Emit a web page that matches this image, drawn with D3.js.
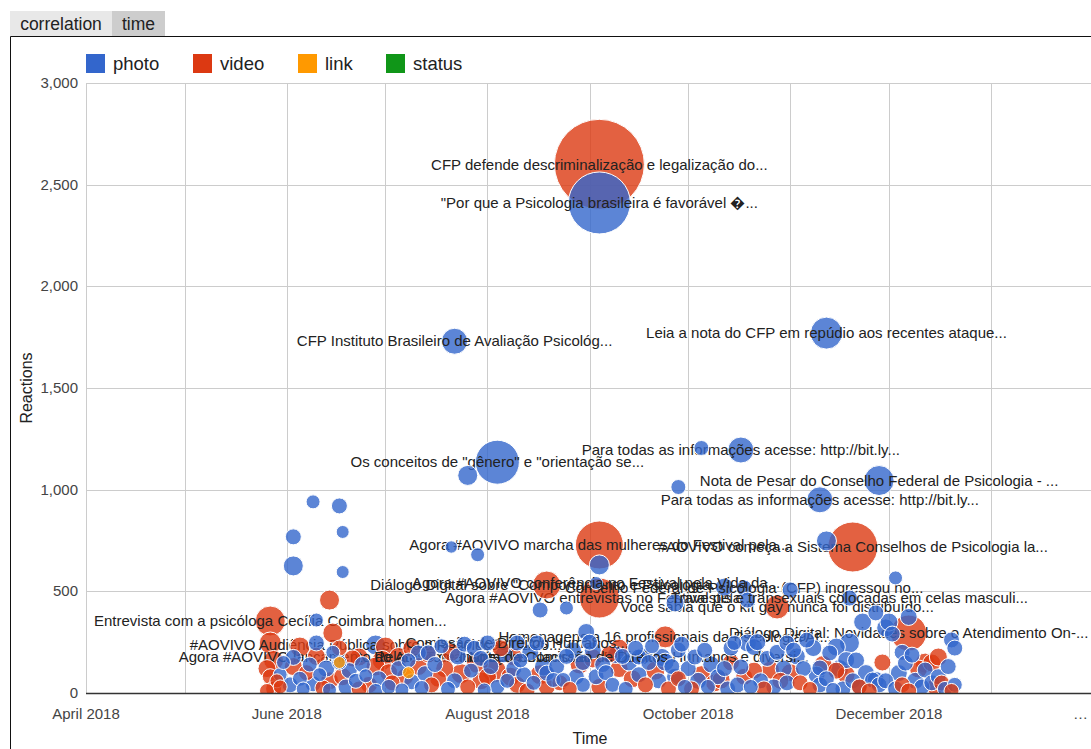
<!DOCTYPE html>
<html>
<head>
<meta charset="utf-8">
<script src="https://cdn.jsdelivr.net/npm/d3@7"></script>
<style>
body { margin: 0; background: #fff; font-family: Arial, "Liberation Sans", sans-serif; }
</style>
</head>
<body>
<svg id="chart"></svg>
<script>
// series, axis ticks
const categories = ["photo", "video", "link", "status"];
const tabNames = ["correlation", "time"];
const yTicks = [0, 500, 1000, 1500, 2000, 2500, 3000];
const xTickDates = ["2018-04-01", "2018-06-01", "2018-08-01", "2018-10-01", "2018-12-01", "2019-02-01"];
const xTickLabels = ["April 2018", "June 2018", "August 2018", "October 2018", "December 2018", "\u2026"];

// [date, reactions, size, label]
const photoPosts = [
    ["2018-09-04", 2410, 260, "\"Por que a Psicologia brasileira é favorável \uFFFD..."],
    ["2018-07-22", 1730, 80, "CFP Instituto Brasileiro de Avaliação Psicológ..."],
    ["2018-11-12", 1770, 110, "Leia a nota do CFP em repúdio aos recentes ataque..."],
    ["2018-08-04", 1135, 170, "Os conceitos de \"gênero\" e \"orientação se..."],
    ["2018-07-26", 1070, 50],
    ["2018-10-17", 1195, 80, "Para todas as informações acesse: http://bit.ly..."],
    ["2018-10-05", 1205, 25],
    ["2018-11-28", 1045, 100, "Nota de Pesar do Conselho Federal de Psicologia - ..."],
    ["2018-11-10", 950, 80, "Para todas as informações acesse: http://bit.ly..."],
    ["2018-09-28", 1013, 25],
    ["2018-11-12", 748, 50],
    ["2018-07-21", 718, 12],
    ["2018-07-29", 680, 20],
    ["2018-09-04", 630, 50],
    ["2018-06-03", 625, 50], ["2018-06-03", 768, 30], ["2018-06-09", 940, 20], ["2018-06-17", 920, 30],
    ["2018-06-18", 792, 15], ["2018-06-18", 595, 15], ["2018-06-10", 359, 20],
    ["2018-09-03", 541, 15, "Agora #AOVIVO conferência no Festival pela Vida da..."],
    ["2018-10-18", 516, 30, "Conselho Federal de Psicologia (CFP) ingressou no..."],
    ["2018-10-12", 521, 40], ["2018-10-19", 457, 30], ["2018-11-01", 507, 30],
    ["2018-11-19", 467, 30, "Travestis e transexuais colocadas em celas masculi..."],
    ["2018-12-03", 566, 20],
    ["2018-08-17", 408, 30], ["2018-08-25", 418, 20], ["2018-09-27", 443, 40],
    ["2018-06-28", 236, 50, "#AOVIVO Audiência Pública sobre a Resolução 01/20..."],
    ["2018-08-10", 246, 30, "Comissão de Direitos Humanos..."],
    ["2018-09-16", 177, 30, "Nota da Comissão de Direitos Humanos e diversi..."],
    ["2018-05-30", 90, 20], ["2018-05-31", 150, 20],
    ["2018-06-02", 40, 30], ["2018-06-03", 175, 30], ["2018-06-05", 70, 25], ["2018-06-06", 20, 20],
    ["2018-06-08", 140, 25], ["2018-06-09", 45, 30], ["2018-06-10", 246, 30], ["2018-06-11", 90, 20],
    ["2018-06-13", 120, 35], ["2018-06-15", 200, 20], ["2018-06-14", 15, 20],
    ["2018-06-17", 150, 25], ["2018-06-19", 30, 30], ["2018-06-20", 110, 30], ["2018-06-22", 60, 25],
    ["2018-06-24", 140, 30], ["2018-06-25", 85, 20], ["2018-06-28", 10, 25], ["2018-06-29", 70, 30],
    ["2018-07-02", 30, 25], ["2018-07-05", 120, 30], ["2018-07-06", 15, 20], ["2018-07-08", 160, 25],
    ["2018-07-09", 55, 30], ["2018-07-11", 197, 30], ["2018-07-12", 25, 25], ["2018-07-13", 95, 30],
    ["2018-07-14", 197, 30], ["2018-07-16", 140, 30], ["2018-07-18", 230, 25], ["2018-07-20", 20, 25],
    ["2018-07-22", 60, 30], ["2018-07-23", 180, 35], ["2018-07-25", 240, 30], ["2018-07-27", 110, 25],
    ["2018-07-28", 220, 30], ["2018-07-31", 15, 20], ["2018-07-30", 170, 30],
    ["2018-08-01", 246, 30], ["2018-08-02", 130, 30], ["2018-08-04", 30, 25], ["2018-08-06", 190, 35],
    ["2018-08-07", 60, 25], ["2018-08-09", 120, 30], ["2018-08-11", 160, 25], ["2018-08-12", 90, 30],
    ["2018-08-14", 200, 35], ["2018-08-15", 50, 25], ["2018-08-16", 246, 30], ["2018-08-18", 128, 40],
    ["2018-08-19", 98, 30], ["2018-08-21", 64, 25], ["2018-08-22", 130, 30], ["2018-08-24", 64, 25],
    ["2018-08-25", 180, 30], ["2018-08-27", 210, 35], ["2018-08-28", 80, 30], ["2018-08-30", 40, 25],
    ["2018-08-31", 300, 35], ["2018-08-30", 150, 30],
    ["2018-09-01", 250, 30], ["2018-09-02", 210, 35], ["2018-09-03", 80, 30], ["2018-09-05", 140, 30],
    ["2018-09-06", 100, 30], ["2018-09-08", 40, 25], ["2018-09-09", 187, 35], ["2018-09-11", 180, 30],
    ["2018-09-12", 20, 25], ["2018-09-13", 150, 35], ["2018-09-15", 220, 30], ["2018-09-16", 90, 30],
    ["2018-09-17", 180, 35], ["2018-09-19", 150, 30], ["2018-09-20", 230, 25], ["2018-09-22", 60, 30],
    ["2018-09-23", 175, 40], ["2018-09-24", 152, 40], ["2018-09-26", 130, 30], ["2018-09-27", 80, 35],
    ["2018-09-28", 211, 30], ["2018-09-30", 30, 25], ["2018-09-29", 240, 30],
    ["2018-10-01", 120, 30], ["2018-10-03", 177, 30], ["2018-10-04", 60, 35], ["2018-10-06", 210, 30],
    ["2018-10-07", 30, 25], ["2018-10-08", 140, 35], ["2018-10-10", 80, 30], ["2018-10-12", 120, 30],
    ["2018-10-13", 20, 30], ["2018-10-14", 221, 30], ["2018-10-15", 246, 25], ["2018-10-16", 40, 30],
    ["2018-10-17", 128, 30], ["2018-10-19", 246, 40], ["2018-10-21", 226, 35], ["2018-10-20", 30, 25],
    ["2018-10-22", 250, 35], ["2018-10-23", 60, 30], ["2018-10-25", 170, 30], ["2018-10-27", 30, 30],
    ["2018-10-28", 200, 30], ["2018-10-30", 120, 35], ["2018-10-31", 50, 30], ["2018-10-31", 246, 30],
    ["2018-11-02", 211, 30], ["2018-11-03", 180, 35], ["2018-11-05", 120, 30], ["2018-11-06", 260, 30],
    ["2018-11-08", 221, 35], ["2018-11-09", 90, 35], ["2018-11-10", 123, 30], ["2018-11-10", 40, 30],
    ["2018-11-12", 70, 30], ["2018-11-13", 197, 30], ["2018-11-14", 15, 25], ["2018-11-15", 226, 40],
    ["2018-11-16", 120, 40], ["2018-11-17", 20, 30], ["2018-11-18", 162, 35], ["2018-11-19", 246, 50],
    ["2018-11-20", 60, 30], ["2018-11-21", 160, 35], ["2018-11-22", 30, 30], ["2018-11-23", 349, 40],
    ["2018-11-24", 98, 35], ["2018-11-26", 64, 30], ["2018-11-27", 394, 30], ["2018-11-27", 64, 35],
    ["2018-11-28", 40, 30], ["2018-11-30", 320, 40], ["2018-11-30", 60, 30],
    ["2018-12-01", 349, 40], ["2018-12-02", 290, 30], ["2018-12-03", 20, 30], ["2018-12-04", 98, 35],
    ["2018-12-05", 200, 30], ["2018-12-06", 147, 30], ["2018-12-07", 374, 35], ["2018-12-08", 186, 30],
    ["2018-12-09", 60, 35], ["2018-12-11", 30, 30], ["2018-12-12", 113, 30], ["2018-12-14", 50, 30],
    ["2018-12-16", 80, 30], ["2018-12-18", 20, 25], ["2018-12-19", 130, 30], ["2018-12-20", 261, 30],
    ["2018-12-21", 221, 30], ["2018-12-21", 40, 25]
];

const videoPosts = [
    ["2018-09-04", 2600, 400, "CFP defende descriminalização e legalização do..."],
    ["2018-09-04", 728, 190, "Agora #AOVIVO marcha das mulheres do Festival pela..."],
    ["2018-11-20", 718, 200, "#AOVIVO começa a Sistema Conselhos de Psicologia la..."],
    ["2018-09-04", 467, 150, "Agora #AOVIVO entrevistas no Festival pela..."],
    ["2018-08-19", 531, 90, "Diálogo Digital sobre \"Comportamento e Psicologia..."],
    ["2018-10-28", 423, 70, "Você sabia que o kit gay nunca foi distribuído..."],
    ["2018-09-24", 276, 60, "Homenagens a 16 profissionais da Psicologia At..."],
    ["2018-12-07", 295, 130, "Diálogo Digital: Novidades sobre o Atendimento On-..."],
    ["2018-05-27", 354, 100, "Entrevista com a psicóloga Cecília Coimbra homen..."],
    ["2018-06-14", 457, 50],
    ["2018-06-23", 177, 40, "Agora #AOVIVO lançamento do Ano Temático de hu..."],
    ["2018-08-09", 177, 40, "Relatório de Inspeções Nacional - Brasil..."],
    ["2018-05-26", 120, 40], ["2018-05-27", 246, 60], ["2018-05-28", 160, 50], ["2018-05-27", 80, 30],
    ["2018-05-28", 20, 30], ["2018-05-29", 60, 20], ["2018-05-30", 30, 20], ["2018-05-26", 10, 25],
    ["2018-06-03", 130, 40], ["2018-06-05", 226, 50], ["2018-06-07", 100, 30], ["2018-06-10", 180, 40],
    ["2018-06-12", 25, 30], ["2018-06-14", 60, 40], ["2018-06-15", 295, 50], ["2018-06-17", 221, 30],
    ["2018-06-18", 80, 40], ["2018-06-21", 170, 35], ["2018-06-23", 20, 30], ["2018-06-26", 40, 35],
    ["2018-06-28", 130, 45], ["2018-07-01", 226, 50], ["2018-06-30", 160, 50],
    ["2018-07-02", 100, 40], ["2018-07-03", 50, 30], ["2018-07-05", 177, 45], ["2018-07-07", 80, 35],
    ["2018-07-09", 220, 40], ["2018-07-11", 130, 40], ["2018-07-14", 190, 35], ["2018-07-15", 40, 30],
    ["2018-07-17", 70, 35], ["2018-07-19", 120, 40], ["2018-07-21", 200, 40], ["2018-07-24", 95, 50],
    ["2018-07-26", 30, 30], ["2018-07-29", 150, 60], ["2018-07-30", 60, 40],
    ["2018-08-01", 80, 40], ["2018-08-03", 110, 70], ["2018-08-05", 220, 35], ["2018-08-08", 80, 45],
    ["2018-08-10", 40, 35], ["2018-08-13", 10, 30], ["2018-08-17", 90, 50], ["2018-08-19", 30, 35],
    ["2018-08-23", 50, 30], ["2018-08-26", 20, 25], ["2018-08-29", 140, 45],
    ["2018-09-02", 170, 45], ["2018-09-04", 30, 35], ["2018-09-07", 190, 35], ["2018-09-10", 221, 40],
    ["2018-09-10", 120, 40], ["2018-09-14", 70, 40], ["2018-09-18", 40, 30], ["2018-09-21", 110, 45],
    ["2018-09-25", 20, 30], ["2018-09-28", 70, 30],
    ["2018-10-02", 20, 30], ["2018-10-05", 90, 40], ["2018-10-09", 50, 40], ["2018-10-11", 64, 40],
    ["2018-10-14", 150, 35], ["2018-10-18", 80, 35], ["2018-10-21", 110, 35], ["2018-10-24", 20, 30],
    ["2018-10-26", 113, 40], ["2018-10-29", 60, 35],
    ["2018-11-01", 100, 40], ["2018-11-04", 50, 30], ["2018-11-07", 20, 25], ["2018-11-11", 140, 40],
    ["2018-11-15", 110, 35], ["2018-11-18", 90, 40], ["2018-11-22", 30, 30], ["2018-11-25", 10, 30],
    ["2018-11-29", 150, 35],
    ["2018-12-05", 40, 30], ["2018-12-07", 10, 30], ["2018-12-10", 118, 40], ["2018-12-12", 147, 50],
    ["2018-12-14", 148, 40], ["2018-12-16", 177, 40], ["2018-12-15", 30, 35], ["2018-12-17", 49, 30],
    ["2018-12-20", 10, 25]
];

const linkPosts = [["2018-06-17", 150, 10], ["2018-07-08", 100, 10]];
const statusPosts = [];

const width = 1091,
    height = 749;

const colors = {photo: "#3366cc", video: "#dc3912", link: "#ff9900", status: "#109618"};
const parse = d3.timeParse("%Y-%m-%d");

const svg = d3.select("#chart")
    .attr("width", width)
    .attr("height", height)
    .style("display", "block");

// tabs
const tabX = [10, 112];
const tabW = [102, 53];
const tabFill = ["#e8e8e8", "#cdcdcd"];
tabNames.forEach((name, i) => {
    svg.append("rect")
        .attr("x", tabX[i]).attr("y", 11)
        .attr("width", tabW[i]).attr("height", 25)
        .attr("fill", tabFill[i]);
    svg.append("text")
        .attr("x", tabX[i] + tabW[i] / 2).attr("y", 30)
        .attr("text-anchor", "middle")
        .attr("font-size", 17.5)
        .attr("fill", "#222")
        .text(name);
});

// chart frame
svg.append("path")
    .attr("d", "M10.5,749 V36.5 H1091")
    .attr("fill", "none")
    .attr("stroke", "#111")
    .attr("stroke-width", 1);

// scales
const xScale = d3.scaleTime()
    .domain([parse("2018-04-01"), parse("2019-02-01")])
    .range([86, 1093]);
const yScale = d3.scaleLinear()
    .domain([0, 3000])
    .range([693, 83]);
const rScale = d3.scaleLinear()
    .domain([0, 400])
    .range([5, 45]);

// gridlines
const grid = svg.append("g").attr("class", "grid");
grid.selectAll(".hline")
    .data(yTicks.filter(d => d > 0))
    .enter().append("line")
    .attr("x1", 86).attr("x2", width)
    .attr("y1", d => Math.round(yScale(d)) + 0.5)
    .attr("y2", d => Math.round(yScale(d)) + 0.5)
    .attr("stroke", "#cccccc");
grid.selectAll(".vline")
    .data(xScale.ticks(d3.timeMonth.every(1)))
    .enter().append("line")
    .attr("x1", d => Math.round(xScale(d)) + 0.5)
    .attr("x2", d => Math.round(xScale(d)) + 0.5)
    .attr("y1", 83).attr("y2", 693)
    .attr("stroke", "#cccccc");

// y labels
svg.append("g")
    .selectAll("text")
    .data(yTicks)
    .enter().append("text")
    .attr("x", 78)
    .attr("y", d => yScale(d) + 5)
    .attr("text-anchor", "end")
    .attr("font-size", 15)
    .attr("fill", "#444")
    .text(d => d3.format(",")(d));

// x labels
svg.append("g")
    .selectAll("text")
    .data(xTickDates)
    .enter().append("text")
    .attr("x", (d, i) => i === xTickDates.length - 1 ? 1088 : xScale(parse(d)))
    .attr("y", 719)
    .attr("text-anchor", (d, i) => i === xTickDates.length - 1 ? "end" : "middle")
    .attr("font-size", 15)
    .attr("fill", "#444")
    .text((d, i) => xTickLabels[i]);

// axis titles
svg.append("text")
    .attr("transform", "translate(32,388) rotate(-90)")
    .attr("text-anchor", "middle")
    .attr("font-size", 16)
    .attr("fill", "#222")
    .text("Reactions");
svg.append("text")
    .attr("x", 590).attr("y", 744)
    .attr("text-anchor", "middle")
    .attr("font-size", 16)
    .attr("fill", "#222")
    .text("Time");

// legend
const legendX = [86, 193, 298, 386];
const legend = svg.append("g").attr("id", "legend");
categories.forEach((c, i) => {
    legend.append("rect")
        .attr("x", legendX[i]).attr("y", 54)
        .attr("width", 19).attr("height", 19)
        .attr("fill", colors[c]);
    legend.append("text")
        .attr("x", legendX[i] + 27).attr("y", 70)
        .attr("font-size", 18.5)
        .attr("fill", "#222")
        .text(c);
});

// bubbles
const seriesRows = [photoPosts, videoPosts, linkPosts, statusPosts];
const posts = seriesRows.flatMap((rows, i) => rows.map(row => ({
    date: parse(row[0]),
    reactions: row[1],
    size: row[2],
    label: row[3] || "",
    type: categories[i]
})));
posts.sort((a, b) => b.size - a.size);

svg.append("clipPath").attr("id", "plot-clip")
    .append("rect")
    .attr("x", 86).attr("y", 40)
    .attr("width", 1100).attr("height", 653);

const bubbles = svg.append("g")
    .attr("clip-path", "url(#plot-clip)")
    .selectAll(".bubble")
    .data(posts)
    .enter().append("g")
    .attr("class", "bubble")
    .attr("transform", d => `translate(${xScale(d.date)},${yScale(d.reactions)})`);

bubbles.append("circle")
    .attr("r", d => rScale(d.size))
    .attr("fill", d => colors[d.type])
    .attr("fill-opacity", 0.8)
    .attr("stroke", "#fff")
    .attr("stroke-width", 1);

bubbles.filter(d => d.label)
    .append("text")
    .attr("text-anchor", "middle")
    .attr("dy", "0.35em")
    .attr("font-size", 15)
    .attr("fill", "#222")
    .text(d => d.label);

// baseline
svg.append("line")
    .attr("x1", 86).attr("x2", width)
    .attr("y1", 693.5).attr("y2", 693.5)
    .attr("stroke", "#333")
    .attr("stroke-width", 1.5);
</script>
</body>
</html>
